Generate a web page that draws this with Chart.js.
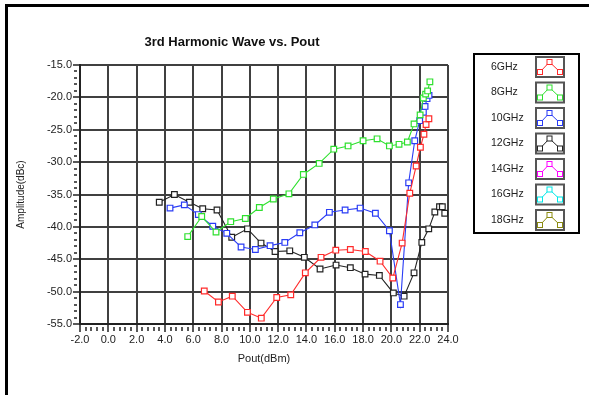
<!DOCTYPE html>
<html>
<head>
<meta charset="utf-8">
<script src="https://cdn.jsdelivr.net/npm/chart.js@4/dist/chart.umd.min.js"></script>
<style>
  html, body { margin: 0; padding: 0; background: #fff; }
  #wrap { position: relative; width: 589px; height: 395px; overflow: hidden; }
  #frame { position: absolute; left: 5px; top: 4px; width: 600px; height: 400px;
           border-top: 3px solid #000; border-left: 3px solid #000; }
  canvas { position: absolute; left: 0; top: 0; }
</style>
</head>
<body>
<div id="wrap">
  <div id="frame"></div>
  <canvas id="chart" width="589" height="395"></canvas>
</div>
<script>
// series labels + colours
var seriesNames = ["6GHz", "8GHz", "10GHz", "12GHz", "14GHz", "16GHz", "18GHz"];
var seriesColors = ["#ff2a2a", "#2ee02e", "#2a3cf5", "#222222", "#ff00ff", "#00e8e8", "#8a8a10"];

// 6GHz
var xRed = [6.78, 7.78, 8.76, 9.83, 10.81, 11.9, 12.89, 13.92, 15.03, 16.07, 17.1, 18.16, 19.2, 20.1, 20.76, 21.3, 21.75, 22.05, 22.3, 22.45, 22.65];
var yRed = [-49.9, -51.6, -50.7, -53.2, -54.1, -50.9, -50.5, -47.1, -44.7, -43.6, -43.5, -43.8, -45.3, -47.9, -42.5, -34.8, -30.6, -27.7, -25.7, -24.2, -23.3];
// 8GHz
var xGreen = [5.61, 6.6, 7.61, 8.65, 9.68, 10.67, 11.66, 12.76, 13.78, 14.9, 15.93, 16.94, 18.0, 18.99, 19.86, 20.54, 21.13, 21.6, 22.03, 22.26, 22.42, 22.56, 22.72];
var yGreen = [-41.5, -38.4, -40.8, -39.2, -38.7, -37.0, -35.7, -34.9, -31.9, -30.2, -28.0, -27.5, -26.7, -26.4, -27.5, -27.25, -26.9, -24.1, -22.7, -20.1, -19.5, -19.0, -17.6];
// 10GHz
var xBlue = [4.36, 5.37, 6.36, 7.38, 8.37, 9.38, 10.39, 11.43, 12.47, 13.53, 14.59, 15.62, 16.73, 17.79, 18.87, 19.86, 20.64, 21.22, 21.65, 22.0, 22.26, 22.38, 22.52, 22.66];
var yBlue = [-37.1, -36.6, -38.1, -39.9, -41.0, -43.1, -43.5, -42.9, -42.4, -40.9, -39.7, -37.75, -37.4, -37.1, -37.9, -40.6, -52.0, -33.2, -26.7, -23.6, -22.3, -21.4, -20.2, -19.7];
// 12GHz
var xBlack = [3.6, 4.67, 5.73, 6.67, 7.68, 8.72, 9.83, 10.79, 11.78, 12.82, 13.85, 14.96, 16.09, 17.1, 18.14, 19.15, 20.14, 20.9, 21.6, 22.15, 22.64, 23.07, 23.4, 23.6, 23.77];
var yBlack = [-36.2, -35.0, -36.2, -37.2, -37.4, -41.6, -40.3, -42.5, -43.8, -43.7, -44.7, -46.5, -45.9, -46.3, -47.3, -47.5, -50.2, -50.7, -47.1, -42.4, -40.3, -37.7, -36.9, -36.9, -37.9];
// 14, 16, 18GHz have no visible points
var xMag = [], yMag = [];
var xCyan = [], yCyan = [];
var xOlive = [], yOlive = [];

var xTicks = [-2, 0, 2, 4, 6, 8, 10, 12, 14, 16, 18, 20, 22, 24];
var yTicks = [-15, -20, -25, -30, -35, -40, -45, -50, -55];

var allX = [xRed, xGreen, xBlue, xBlack, xMag, xCyan, xOlive];
var allY = [yRed, yGreen, yBlue, yBlack, yMag, yCyan, yOlive];

function toPoints(xs, ys) {
    var pts = [];
    for (var i = 0; i < xs.length; i++) pts.push({ x: xs[i], y: ys[i] });
    return pts;
}

var datasets = [];
for (var i = 0; i < seriesNames.length; i++) {
    datasets.push({
        label: seriesNames[i],
        data: toPoints(allX[i], allY[i]),
        borderColor: seriesColors[i],
        backgroundColor: '#fff',
        borderWidth: 1.1,
        pointStyle: 'rect',
        pointRadius: 4,
        pointBorderWidth: 1.2,
        pointBackgroundColor: '#fff',
        pointBorderColor: seriesColors[i],
        tension: 0
    });
}

// extra drawing: title, minor ticks, legend box
var extras = {
    id: 'extras',
    afterDraw: function (chart) {
        var ctx = chart.ctx;
        var area = chart.chartArea;
        var xs = chart.scales.x, ys = chart.scales.y;
        ctx.save();

        // title
        ctx.fillStyle = '#111';
        ctx.font = 'bold 13px "Liberation Sans", Arial, sans-serif';
        ctx.textAlign = 'center';
        ctx.textBaseline = 'middle';
        ctx.fillText('3rd Harmonic Wave vs. Pout', 232, 42);

        // minor ticks
        ctx.strokeStyle = '#222';
        ctx.lineWidth = 1.5;
        ctx.beginPath();
        for (var v = xTicks[0]; v < xTicks[xTicks.length - 1]; v += 0.4) {
            if (Math.abs(v / 2 - Math.round(v / 2)) < 0.01) continue;
            var px = Math.round(xs.getPixelForValue(v));
            ctx.moveTo(px, area.bottom + 3);
            ctx.lineTo(px, area.bottom + 7);
        }
        for (var w = -55; w < -15; w += 1) {
            if (w % 5 === 0) continue;
            var py = Math.round(ys.getPixelForValue(w));
            ctx.moveTo(area.left - 6, py);
            ctx.lineTo(area.left - 3, py);
        }
        ctx.stroke();

        // legend
        var lx = 474, ly = 54, lw = 105, lh = 179;
        ctx.fillStyle = '#fff';
        ctx.fillRect(lx, ly, lw, lh);
        ctx.strokeStyle = '#000';
        ctx.lineWidth = 2;
        ctx.strokeRect(lx, ly, lw, lh);
        ctx.font = '10.5px "Liberation Sans", Arial, sans-serif';
        ctx.textAlign = 'left';
        ctx.textBaseline = 'middle';
        chart.data.datasets.forEach(function (ds, k) {
            var cy = 67 + k * 25.5;
            ctx.fillStyle = '#222';
            ctx.fillText(ds.label, 491, cy);
            // icon box
            ctx.strokeStyle = '#555';
            ctx.lineWidth = 2;
            ctx.fillStyle = '#fff';
            ctx.fillRect(536, cy - 10, 28, 20);
            ctx.strokeRect(536, cy - 10, 28, 20);
            // mini line
            ctx.strokeStyle = ds.borderColor;
            ctx.lineWidth = 1;
            ctx.beginPath();
            ctx.moveTo(540, cy + 5);
            ctx.lineTo(549.5, cy - 5);
            ctx.lineTo(560, cy + 5);
            ctx.stroke();
            [[540, cy + 5], [549.5, cy - 5], [560, cy + 5]].forEach(function (p) {
                ctx.fillStyle = '#fff';
                ctx.fillRect(p[0] - 2.5, p[1] - 2.5, 5, 5);
                ctx.strokeRect(p[0] - 2.5, p[1] - 2.5, 5, 5);
            });
        });
        ctx.restore();
    }
};

var gridColor = '#404040';

var ctx = document.getElementById('chart');
var myChart = new Chart(ctx, {
    type: 'line',
    data: { datasets: datasets },
    options: {
        responsive: false,
        animation: false,
        layout: { padding: { left: 0, top: 65, right: 141, bottom: 0 } },
        plugins: {
            legend: { display: false },
            title: { display: false },
            tooltip: { enabled: false }
        },
        scales: {
            x: {
                type: 'linear',
                min: xTicks[0],
                max: xTicks[xTicks.length - 1],
                afterBuildTicks: function (axis) {
                    axis.ticks = xTicks.map(function (v) { return { value: v }; });
                },
                afterFit: function (axis) { axis.height = 71; },
                ticks: {
                    autoSkip: false,
                    maxRotation: 0,
                    padding: 1,
                    color: '#222',
                    font: { family: '"Liberation Sans", Arial, sans-serif', size: 11 },
                    callback: function (v) { return v.toFixed(1); }
                },
                grid: { color: gridColor, lineWidth: 2, tickLength: 8, tickColor: '#222', tickWidth: 1.5 },
                border: { color: '#222', width: 2 },
                title: {
                    display: true,
                    text: 'Pout(dBm)',
                    color: '#222',
                    font: { family: '"Liberation Sans", Arial, sans-serif', size: 11 },
                    padding: { top: 0, bottom: 29 }
                }
            },
            y: {
                type: 'linear',
                min: -55,
                max: -15,
                afterBuildTicks: function (axis) {
                    axis.ticks = yTicks.slice().reverse().map(function (v) { return { value: v }; });
                },
                afterFit: function (axis) { axis.width = 80; },
                ticks: {
                    autoSkip: false,
                    padding: 1,
                    color: '#222',
                    font: { family: '"Liberation Sans", Arial, sans-serif', size: 11 },
                    callback: function (v) { return v.toFixed(1); }
                },
                grid: { color: gridColor, lineWidth: 2, tickLength: 7, tickColor: '#222', tickWidth: 1.5 },
                border: { color: '#222', width: 2 },
                title: {
                    display: true,
                    text: 'Amplitude(dBc)',
                    color: '#222',
                    font: { family: '"Liberation Sans", Arial, sans-serif', size: 10 },
                    padding: { top: 15, bottom: 0 }
                }
            }
        }
    },
    plugins: [extras]
});
</script>
</body>
</html>
